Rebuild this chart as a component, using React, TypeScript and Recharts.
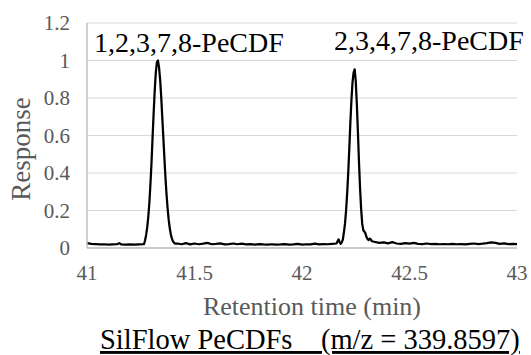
import { LineChart, Line, XAxis, YAxis, CartesianGrid } from 'recharts';

const retentionTime = [
    41.0, 41.02, 41.04, 41.06, 41.08, 41.1, 41.12, 41.14, 41.15, 41.16, 41.18, 41.2, 41.22, 41.24, 41.26,
    // 1,2,3,7,8-PeCDF
    41.265, 41.27, 41.275, 41.28, 41.285, 41.29, 41.295, 41.3, 41.305, 41.31, 41.315, 41.32, 41.325, 41.33,
    41.335, 41.34, 41.345, 41.35, 41.355, 41.36, 41.365, 41.37, 41.375, 41.38, 41.385, 41.39, 41.395, 41.4,
    41.405, 41.41,
    41.42, 41.44, 41.46, 41.48, 41.5, 41.52, 41.54, 41.56, 41.58, 41.6, 41.62, 41.64, 41.66, 41.68, 41.7,
    41.72, 41.74, 41.76, 41.78, 41.8, 41.82, 41.84, 41.86, 41.88, 41.9, 41.92, 41.94, 41.96, 41.98, 42.0,
    42.02, 42.04, 42.06, 42.08, 42.1, 42.12, 42.14, 42.16, 42.165, 42.17, 42.175, 42.18, 42.185,
    // 2,3,4,7,8-PeCDF
    42.19, 42.195, 42.2, 42.205, 42.21, 42.215, 42.22, 42.225, 42.23, 42.235, 42.24, 42.245, 42.25, 42.255,
    42.26, 42.265, 42.27, 42.275, 42.28, 42.285, 42.29, 42.295, 42.3, 42.305, 42.31, 42.315, 42.32, 42.325,
    42.34, 42.36, 42.38, 42.4, 42.42, 42.44, 42.46, 42.48, 42.5, 42.52, 42.54, 42.56, 42.58, 42.6, 42.62,
    42.64, 42.66, 42.68, 42.7, 42.72, 42.74, 42.76, 42.78, 42.8, 42.82, 42.84, 42.86, 42.88, 42.9, 42.92,
    42.94, 42.96, 42.98, 43.0,
];

const response = [
    0.026, 0.022, 0.021, 0.019, 0.02, 0.018, 0.019, 0.02, 0.026, 0.019, 0.018, 0.019, 0.018, 0.019, 0.02,
    0.021, 0.04, 0.07, 0.11, 0.165, 0.24, 0.34, 0.455, 0.59, 0.72, 0.84, 0.935, 0.99, 1.0,
    0.965, 0.9, 0.81, 0.7, 0.59, 0.48, 0.375, 0.285, 0.21, 0.15, 0.105, 0.072, 0.05, 0.035,
    0.027, 0.023,
    0.024, 0.02, 0.026, 0.019, 0.024, 0.02, 0.023, 0.027, 0.02, 0.022, 0.025, 0.019, 0.021, 0.024, 0.02,
    0.023, 0.019, 0.021, 0.018, 0.021, 0.019, 0.018, 0.02, 0.018, 0.019, 0.021, 0.018, 0.019, 0.022, 0.018,
    0.02, 0.019, 0.023, 0.019, 0.021, 0.02, 0.022, 0.024, 0.035, 0.046, 0.032, 0.022, 0.03,
    0.045, 0.085, 0.13, 0.2, 0.29, 0.4, 0.53, 0.67, 0.79, 0.885, 0.935, 0.953, 0.89, 0.77,
    0.62, 0.46, 0.32, 0.21, 0.13, 0.095, 0.088, 0.078, 0.058, 0.048, 0.042, 0.05, 0.046, 0.036,
    0.032, 0.027, 0.03, 0.025, 0.031, 0.024, 0.022, 0.026, 0.023, 0.027, 0.022, 0.021, 0.024, 0.021, 0.022,
    0.02, 0.021, 0.02, 0.022, 0.02, 0.021, 0.019, 0.022, 0.024, 0.021, 0.023, 0.026, 0.03, 0.027, 0.022,
    0.025, 0.021, 0.022, 0.021,
];

const xTicks = [41, 41.5, 42, 42.5, 43];
const yTicks = [0, 0.2, 0.4, 0.6, 0.8, 1, 1.2];

const data = retentionTime.map((t, i) => ({ t, r: response[i] }));

const FONT = 'Liberation Serif';
const gray = '#595959';

const XTick = ({ x, y, payload }: any) => (
    <text x={x} y={y} dy="0.71em" textAnchor="middle" fill={gray} fontSize={21} style={{ fontFamily: FONT }}>
        {payload.value}
    </text>
);

const YTick = ({ x, y, payload }: any) => (
    <text x={x} y={y} dy="0.355em" textAnchor="end" fill={gray} fontSize={21} style={{ fontFamily: FONT }}>
        {payload.value}
    </text>
);

export default function App() {
    return (
        <div style={{ position: 'absolute', left: 0, top: 0, width: 531, height: 355, background: '#fff', fontFamily: FONT }}>
            <LineChart width={531} height={355} data={data} margin={{ top: 23, right: 14, left: 0, bottom: 0 }}>
                <CartesianGrid vertical={false} stroke="#d9d9d9" strokeWidth={1} />
                <XAxis
                    dataKey="t"
                    type="number"
                    domain={[41, 43]}
                    ticks={xTicks}
                    height={107}
                    tickLine={false}
                    tickSize={0}
                    tickMargin={17}
                    axisLine={{ stroke: '#bfbfbf', strokeWidth: 1.5 }}
                    tick={<XTick />}
                    interval={0}
                />
                <YAxis
                    type="number"
                    domain={[0, 1.2]}
                    ticks={yTicks}
                    width={87}
                    tickLine={false}
                    tickSize={0}
                    tickMargin={17}
                    axisLine={{ stroke: '#bfbfbf', strokeWidth: 1.5 }}
                    tick={<YTick />}
                    interval={0}
                />
                <Line
                    dataKey="r"
                    type="linear"
                    stroke="#000"
                    strokeWidth={2.25}
                    strokeLinejoin="round"
                    dot={false}
                    isAnimationActive={false}
                />
            </LineChart>
            <svg width={531} height={355} style={{ position: 'absolute', left: 0, top: 0, pointerEvents: 'none' }}>
                <text x={94} y={51.5} fontSize={28} fill="#000" style={{ fontFamily: FONT }}>1,2,3,7,8-PeCDF</text>
                <text x={334} y={50} fontSize={28} fill="#000" style={{ fontFamily: FONT }}>2,3,4,7,8-PeCDF</text>
                <text
                    x={21}
                    y={149}
                    fontSize={27}
                    fill={gray}
                    textAnchor="middle"
                    dominantBaseline="central"
                    transform="rotate(-90 21 149)"
                    style={{ fontFamily: FONT }}
                >
                    Response
                </text>
                <text x={312} y={315} fontSize={26} fill={gray} textAnchor="middle" style={{ fontFamily: FONT }}>
                    Retention time (min)
                </text>
                <text
                    x={100}
                    y={349}
                    fontSize={28.5}
                    fill="#000"
                    textDecoration="underline"
                    style={{ fontFamily: FONT, whiteSpace: 'pre' }}
                >
                    {'SilFlow PeCDFs    (m/z = 339.8597)'}
                </text>
            </svg>
        </div>
    );
}
